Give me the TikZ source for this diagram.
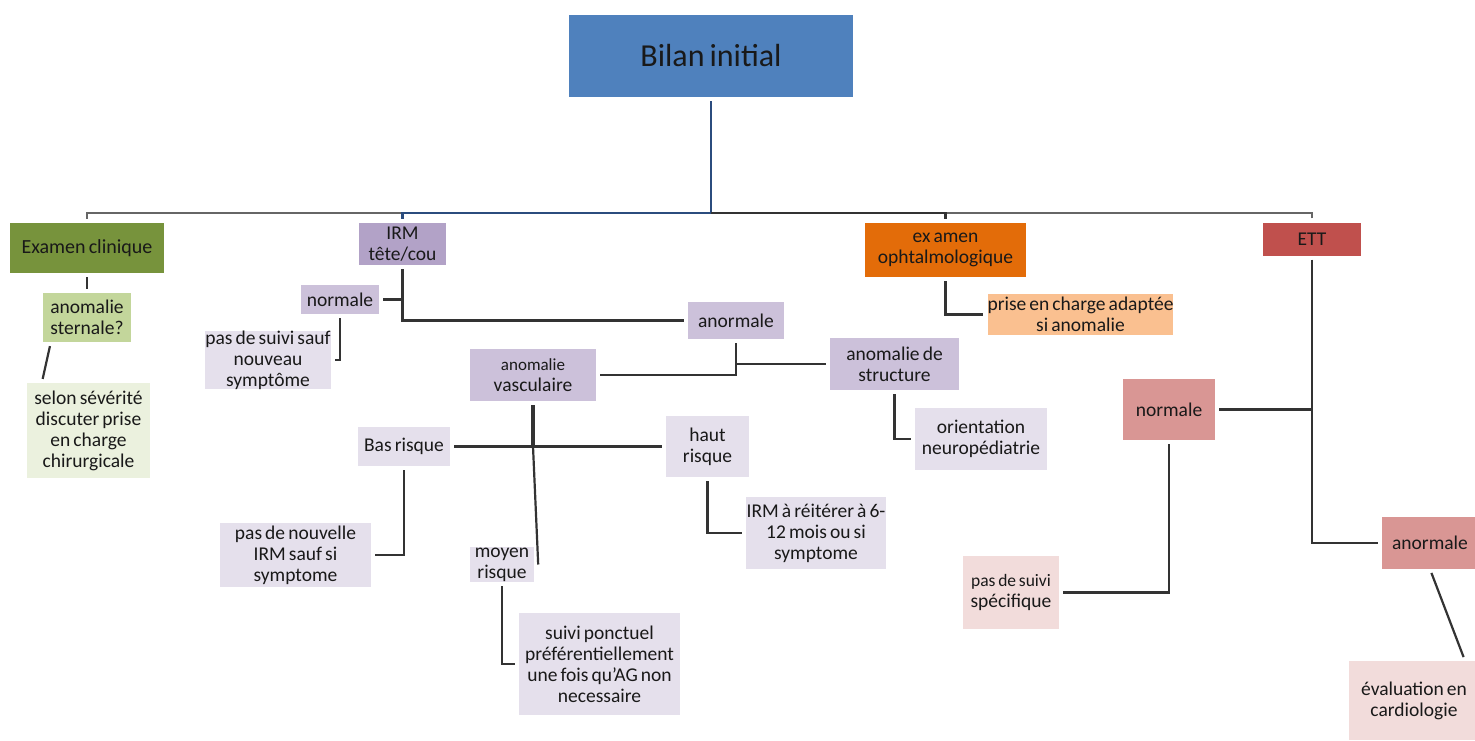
\documentclass[tikz,border=0pt]{standalone}
\usepackage{fontspec}
\setmainfont{Carlito}[WordSpace=0.7]
\definecolor{bilanblue}{HTML}{4F81BD}
\definecolor{examgreen}{HTML}{77933C}
\definecolor{greenmid}{HTML}{C3D69B}
\definecolor{greenpale}{HTML}{EBF1DE}
\definecolor{irmpurple}{HTML}{B2A2C7}
\definecolor{purplemid}{HTML}{CCC1DA}
\definecolor{purplepale}{HTML}{E5E0EC}
\definecolor{ophtaorange}{HTML}{E36C09}
\definecolor{orangepale}{HTML}{FAC090}
\definecolor{ettred}{HTML}{C0504D}
\definecolor{redmid}{HTML}{D99694}
\definecolor{redpale}{HTML}{F2DCDB}
\definecolor{linkgray}{HTML}{333333}
\definecolor{busgray}{HTML}{666666}
\definecolor{busnavy}{HTML}{2B4C7E}

\begin{document}
\begin{tikzpicture}[x=1pt,y=-1pt,
  box/.style={rectangle,inner sep=0pt,align=center,text=black!90,font=\fontsize{19.5}{21}\selectfont},
  boxsize/.style 2 args={minimum width=#1pt,minimum height=#2pt},
  link/.style={draw=linkgray,line width=2.2pt,shorten <=4pt,shorten >=4pt}]
  \useasboundingbox[fill=white] (0,0) rectangle (1475,740);
  \node[box,boxsize={284}{82},fill=bilanblue,font=\fontsize{32}{36}\selectfont] (bilan) at (711,56) {Bilan initial};
  \coordinate (bus) at (711,213);
  \node[box,boxsize={154}{50},fill=examgreen,font=\fontsize{20}{22}\selectfont] (exam) at (87,248) {Examen clinique};
  \node[box,boxsize={87}{42},fill=irmpurple] (irm) at (402.5,244) {IRM\\tête/cou};
  \node[box,boxsize={161}{54},fill=ophtaorange] (ophta) at (945.5,250) {ex amen\\ophtalmologique};
  \node[box,boxsize={98}{33},fill=ettred] (ett) at (1312,239) {ETT};
  \node[box,boxsize={88}{49},fill=greenmid] (sternale) at (87,317.5) {anomalie\\sternale?};
  \node[box,boxsize={123}{95},fill=greenpale] (selon) at (88.5,430.5) {selon sévérité\\discuter prise\\en charge\\chirurgicale};
  \node[box,boxsize={78}{29},fill=purplemid] (irmnorm) at (340,299.5) {normale};
  \node[box,boxsize={124}{56},fill=purplepale] (pasnorm) at (268,360) {pas de suivi sauf\\nouveau\\symptôme};
  \node[box,boxsize={96}{37},fill=purplemid] (irmanorm) at (736,320.5) {anormale};
  \node[box,boxsize={126}{52},fill=purplemid] (vasc) at (533,375) {{\fontsize{17}{21}\selectfont anomalie}\\vasculaire};
  \node[box,boxsize={129}{52},fill=purplemid] (struct) at (894.5,364) {anomalie de\\structure};
  \node[box,boxsize={132}{62},fill=purplepale] (orient) at (981,439) {orientation\\neuropédiatrie};
  \node[box,boxsize={92}{39},fill=purplepale] (bas) at (404,446.5) {Bas risque};
  \node[box,boxsize={83}{61},fill=purplepale] (haut) at (707.5,446.5) {haut\\risque};
  \node[box,boxsize={64}{35},fill=purplepale] (moyen) at (502,564.5) {moyen\\risque};
  \node[box,boxsize={151}{64},fill=purplepale] (pasirm) at (295.5,555) {pas de nouvelle\\IRM sauf si\\symptome};
  \node[box,boxsize={140}{72},fill=purplepale] (reit) at (816,533) {IRM à réitérer à 6-\\12 mois ou si\\symptome};
  \node[box,boxsize={161}{102},fill=purplepale] (suivi) at (599.5,664) {suivi ponctuel\\préférentiellement\\une fois qu’AG non\\necessaire};
  \node[box,boxsize={185}{41},fill=orangepale] (prise) at (1080.5,314.5) {prise en charge adaptée\\si anomalie};
  \node[box,boxsize={92}{61},fill=redmid] (ettnorm) at (1169,409.5) {normale};
  \node[box,boxsize={96}{52},fill=redmid] (ettanorm) at (1430,543) {anormale};
  \node[box,boxsize={96}{73},fill=redpale] (passpec) at (1011,592.5) {{\fontsize{17.5}{21}\selectfont pas de suivi}\\spécifique};
  \node[box,boxsize={130}{79},fill=redpale] (eval) at (1414,700.5) {évaluation en\\cardiologie};

  \draw[link,draw=busnavy,shorten >=0pt] (bilan.south) -- (bus);
  \draw[link,draw=busgray,shorten >=0pt] (exam.north) |- (bus);
  \draw[link,draw=busnavy,shorten >=0pt] (irm.north) |- (bus);
  \draw[link,draw=busgray,shorten >=0pt] (ett.north) |- (bus);
  \draw[link,shorten >=0pt] (ophta.north) |- (bus);
  \draw[link] (exam) -- (sternale);
  \draw[link] ([xshift=8pt]sternale.south west) -- ([xshift=15pt]selon.north west);
  \draw[link] (irm.south) |- (irmanorm.west);
  \draw[link,shorten >=0pt] (irmnorm.east) -- (irmnorm.east -| irm.south);
  \draw[link] (irmnorm.south) |- (pasnorm.east);
  \draw[link] (irmanorm.south) |- (vasc.east);
  \draw[link,shorten <=0pt] (irmanorm.south |- struct.west) -- (struct.west);
  \draw[link] (struct.south) |- (orient.west);
  \draw[link,line width=3.5pt,shorten >=0pt] (vasc.south) -- (vasc.south |- bas.east) coordinate (risk);
  \draw[link] (bas.east) -- (haut.west);
  \draw[link,shorten <=0pt,shorten >=0pt] (risk) -- ([xshift=4pt]moyen.east);
  \draw[link] (bas.south) |- (pasirm.east);
  \draw[link] (haut.south) |- (reit.west);
  \draw[link] (moyen.south) |- (suivi.west);
  \draw[link] (ophta.south) |- (prise.west);
  \draw[link] (ett.south) |- (ettanorm.west);
  \draw[link,shorten >=0pt] (ettnorm.east) -- (ettnorm.east -| ett.south);
  \draw[link] (ettnorm.south) |- (passpec.east);
  \draw[link] (ettanorm.south) -- ([xshift=51pt]eval.north);
\end{tikzpicture}
\end{document}
